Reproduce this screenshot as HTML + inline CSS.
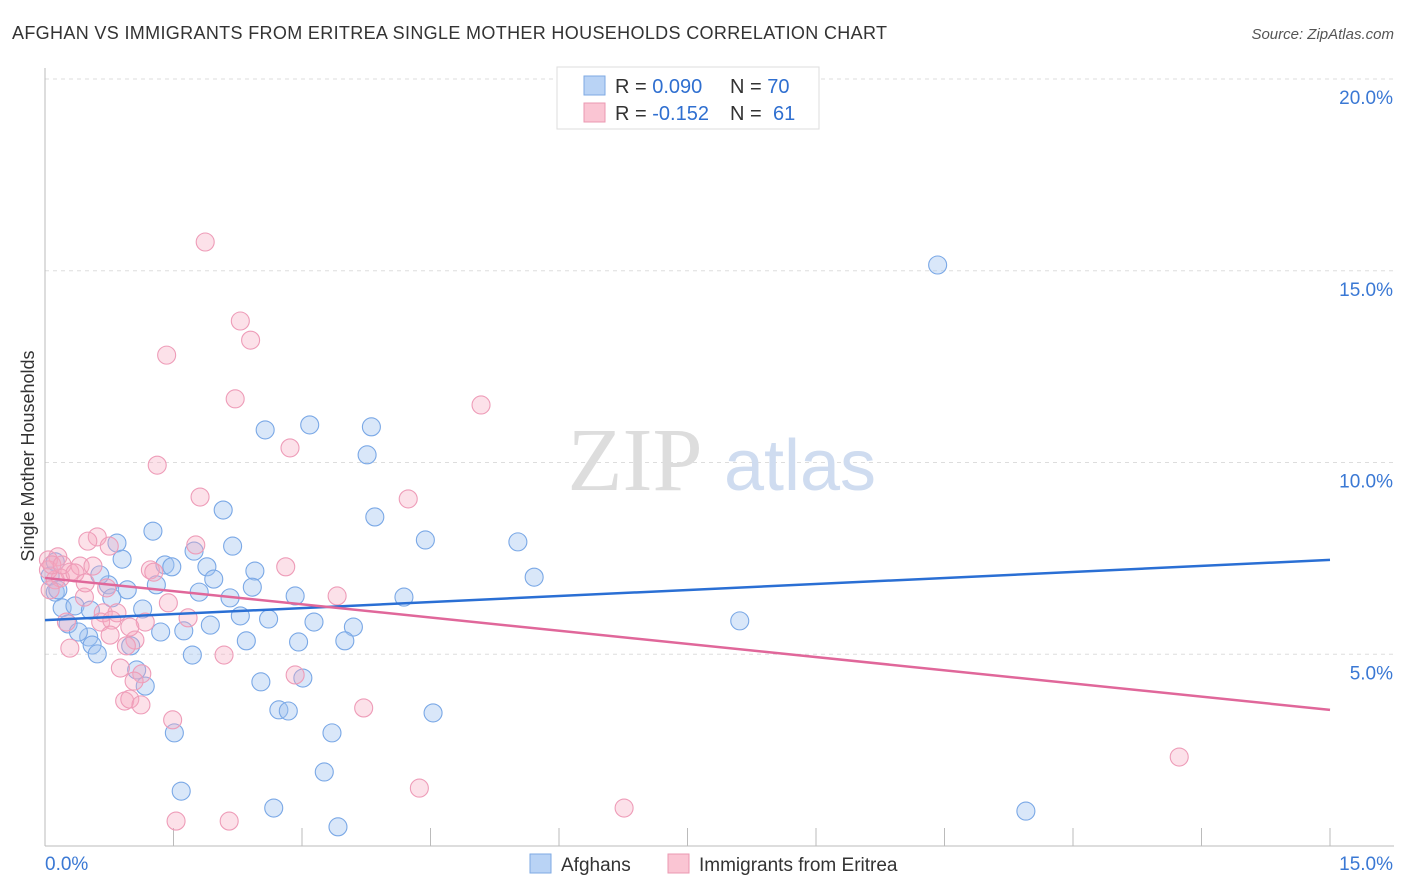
<!DOCTYPE html>
<html><head><meta charset="utf-8"><style>
body{margin:0;background:#fff;font-family:"Liberation Sans",sans-serif}
</style></head><body>
<svg id="chart" width="1406" height="892" xmlns="http://www.w3.org/2000/svg" style="display:block">
<text x="12" y="39" font-size="18" fill="#333" textLength="875">AFGHAN VS IMMIGRANTS FROM ERITREA SINGLE MOTHER HOUSEHOLDS CORRELATION CHART</text>
<text x="1394" y="39" font-size="15" fill="#555" font-style="italic" text-anchor="end">Source: ZipAtlas.com</text>
<g id="grid"></g>
<g><text x="635" y="490" font-size="90" font-family="Liberation Serif" fill="#ddd" text-anchor="middle">ZIP</text><text x="800" y="490" font-size="72" fill="#cfdcf0" text-anchor="middle">atlas</text></g>
<text transform="translate(34,456) rotate(-90)" font-size="18" fill="#333" text-anchor="middle">Single Mother Households</text>
<g id="pts"></g>
<g id="lines"></g>
<g>
<rect x="557" y="67" width="262" height="62" fill="#fff" stroke="#ddd"/>
<rect x="584" y="76" width="21" height="19" fill="#b9d3f5" stroke="#7ea9e3"/>
<rect x="584" y="103" width="21" height="19" fill="#fac5d3" stroke="#eb98b2"/>
<text x="615" y="93" font-size="20" fill="#333">R = <tspan fill="#2f6fd0">0.090</tspan><tspan x="730">N = </tspan><tspan fill="#2f6fd0">70</tspan></text>
<text x="615" y="120" font-size="20" fill="#333">R = <tspan fill="#2f6fd0">-0.152</tspan><tspan x="730">N = </tspan><tspan fill="#2f6fd0" x="773">61</tspan></text>
</g>
<g>
<rect x="530" y="854" width="21" height="19" fill="#b9d3f5" stroke="#7ea9e3"/>
<text x="561" y="871" font-size="19" fill="#333">Afghans</text>
<rect x="668" y="854" width="21" height="19" fill="#fac5d3" stroke="#eb98b2"/>
<text x="699" y="871" font-size="19" fill="#333">Immigrants from Eritrea</text>
</g>
</svg>
<script>
const yTicks=[5,10,15,20];
const yTickLabels=["5.0%","10.0%","15.0%","20.0%"];
const xTicks=[0,1.5,3,4.5,6,7.5,9,10.5,12,13.5,15];
const blueX=[10.42,3.09,2.57,3.81,3.76,3.85,4.44,5.52,5.71,8.11,11.45,2.08,1.26,0.84,0.90,2.19,1.74,1.40,1.48,1.89,2.45,1.97,0.74,0.96,1.30,2.42,1.80,2.16,2.92,4.19,0.78,1.14,2.28,2.61,1.93,3.14,3.60,1.62,1.35,2.96,3.50,2.35,0.51,0.55,0.61,1.00,1.72,1.07,1.17,2.52,3.01,2.73,2.84,4.53,1.51,3.35,3.26,1.59,2.67,3.42,0.12,0.20,0.35,0.27,0.39,0.06,0.12,0.15,0.64,0.53];
const blueY=[15.15,10.98,10.85,10.93,10.20,8.58,7.98,7.93,7.01,5.87,0.91,8.76,8.21,7.90,7.48,7.82,7.69,7.33,7.28,7.28,7.17,6.96,6.81,6.68,6.81,6.75,6.62,6.47,6.52,6.49,6.47,6.18,6.00,5.92,5.76,5.84,5.71,5.61,5.58,5.32,5.35,5.35,5.45,5.24,5.01,5.22,4.98,4.59,4.17,4.28,4.38,3.55,3.52,3.47,2.95,2.95,1.93,1.43,0.99,0.50,6.62,6.21,6.26,5.79,5.58,7.04,7.41,6.68,7.07,6.15];
const pinkX=[1.87,2.28,2.40,1.42,2.22,5.09,2.86,1.31,4.24,1.81,1.76,0.61,0.50,0.75,0.15,0.04,0.29,0.41,0.56,0.12,0.18,1.23,1.27,2.81,3.41,0.72,0.46,1.44,0.68,0.84,0.25,0.65,1.17,1.67,1.05,0.95,0.29,2.09,0.88,1.13,2.92,1.04,0.93,0.99,1.12,1.49,3.72,13.24,4.37,6.76,1.53,2.15,0.04,0.08,0.20,0.35,0.47,0.78,0.99,0.06,0.76];
const pinkY=[15.75,13.69,13.19,12.80,11.66,11.50,10.38,9.93,9.05,9.10,7.85,8.06,7.95,7.82,7.54,7.46,7.14,7.30,7.30,6.94,6.99,7.20,7.14,7.28,6.52,6.73,6.49,6.34,6.08,6.08,5.84,5.84,5.84,5.95,5.37,5.22,5.16,4.98,4.64,4.49,4.46,4.30,3.78,3.83,3.68,3.29,3.60,2.32,1.51,0.99,0.65,0.65,7.20,7.33,7.33,7.12,6.86,5.89,5.71,6.68,5.50];
const blueTrend=[5.89,7.46];
const pinkTrend=[6.99,3.55];
const NS="http://www.w3.org/2000/svg";
const sx=v=>45+v*(1285/15);
const sy=v=>846-v*38.35;
function mk(tag,attrs,parent){const e=document.createElementNS(NS,tag);for(const k in attrs)e.setAttribute(k,attrs[k]);parent.appendChild(e);return e;}
const grid=document.getElementById('grid');
yTicks.forEach((t,i)=>{
 const l=mk('line',{x1:45,x2:1394,y1:sy(t),y2:sy(t),stroke:'#ddd','stroke-dasharray':'4,4'},grid);
 
 
 const tx=mk('text',{x:1393,y:sy(t)+25,'font-size':19,fill:'#3a78d4','text-anchor':'end'},grid);
 tx.textContent=yTickLabels[i];
 
 
});
const ax=mk('line',{x1:45,x2:45,y1:68,y2:846,stroke:'#bbb'},grid);


const bx=mk('line',{x1:45,x2:1394,y1:846,y2:846,stroke:'#bbb'},grid);


xTicks.forEach(t=>{
 const l=mk('line',{x1:sx(t),x2:sx(t),y1:828,y2:846,stroke:'#bbb'},grid);
 
 
});
const xl0=mk('text',{x:45,y:870,'font-size':19,fill:'#3a78d4'},grid);xl0.textContent='0.0%';


const xl1=mk('text',{x:1393,y:870,'font-size':19,fill:'#3a78d4','text-anchor':'end'},grid);xl1.textContent='15.0%';


const pts=document.getElementById('pts');
blueX.forEach((x,i)=>{
 const c=mk('circle',{cx:sx(x),cy:sy(blueY[i]),r:9,fill:'rgba(160,195,240,0.4)',stroke:'#7aa8e6','stroke-width':1.1},pts);
 
 
});
pinkX.forEach((x,i)=>{
 const c=mk('circle',{cx:sx(x),cy:sy(pinkY[i]),r:9,fill:'rgba(246,170,192,0.35)',stroke:'#ee9cb8','stroke-width':1.1},pts);
 
 
});
const lines=document.getElementById('lines');
const b=mk('line',{x1:sx(0),x2:sx(15),y1:sy(blueTrend[0]),y2:sy(blueTrend[1]),stroke:'#2a6fd4','stroke-width':2.5},lines);


const p=mk('line',{x1:sx(0),x2:sx(15),y1:sy(pinkTrend[0]),y2:sy(pinkTrend[1]),stroke:'#e0679a','stroke-width':2.5},lines);


</script>
</body></html>
